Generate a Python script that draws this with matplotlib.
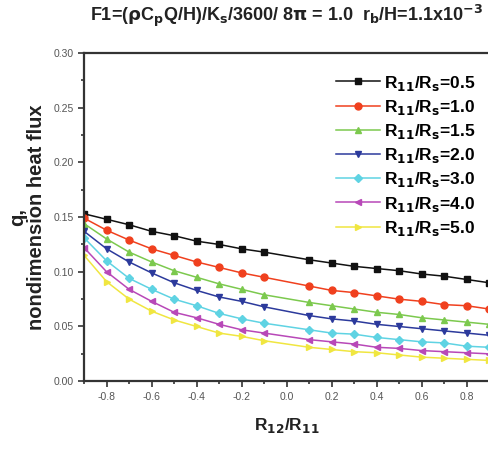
import matplotlib
matplotlib.use("Agg")
import matplotlib.pyplot as plt
from matplotlib.ticker import MultipleLocator, FormatStrFormatter

plt.rcParams['font.family'] = ['Liberation Sans', 'DejaVu Sans']
plt.rcParams['axes.unicode_minus'] = False
plt.rcParams['mathtext.default'] = 'bf'

# Eccentricity ratio R12/R11 (no sample at 0.0)
x = [-0.9, -0.8, -0.7, -0.6, -0.5, -0.4, -0.3, -0.2, -0.1,
     0.1, 0.2, 0.3, 0.4, 0.5, 0.6, 0.7, 0.8, 0.9]

q_05 = [0.153, 0.148, 0.143, 0.137, 0.133, 0.128, 0.125, 0.121, 0.118,
        0.111, 0.108, 0.105, 0.103, 0.101, 0.098, 0.096, 0.093, 0.090]
q_10 = [0.149, 0.138, 0.129, 0.121, 0.115, 0.109, 0.104, 0.099, 0.095,
        0.087, 0.083, 0.081, 0.078, 0.075, 0.073, 0.070, 0.069, 0.066]
q_15 = [0.144, 0.130, 0.118, 0.109, 0.101, 0.095, 0.089, 0.084, 0.079,
        0.072, 0.069, 0.066, 0.063, 0.061, 0.058, 0.056, 0.054, 0.052]
q_20 = [0.137, 0.121, 0.109, 0.099, 0.090, 0.083, 0.077, 0.073, 0.068,
        0.060, 0.057, 0.055, 0.052, 0.050, 0.048, 0.046, 0.044, 0.042]
q_30 = [0.131, 0.110, 0.094, 0.084, 0.075, 0.069, 0.062, 0.057, 0.053,
        0.047, 0.044, 0.043, 0.040, 0.038, 0.036, 0.035, 0.032, 0.031]
q_40 = [0.122, 0.100, 0.084, 0.073, 0.063, 0.058, 0.052, 0.047, 0.044,
        0.038, 0.036, 0.034, 0.031, 0.030, 0.028, 0.027, 0.026, 0.025]
q_50 = [0.115, 0.091, 0.075, 0.064, 0.056, 0.050, 0.044, 0.041, 0.037,
        0.031, 0.029, 0.027, 0.026, 0.024, 0.022, 0.021, 0.020, 0.019]

ratios = ['0.5', '1.0', '1.5', '2.0', '3.0', '4.0', '5.0']
series = [q_05, q_10, q_15, q_20, q_30, q_40, q_50]
colors = ['#111111', '#f0401e', '#7cc94e', '#2c3a9c', '#5fd3e3', '#b848b8', '#f0e640']
markers = ['s', 'o', '^', 'v', 'D', '<', '>']
msizes = [4.2, 5, 5, 5, 4.2, 5, 5]

fig = plt.figure(figsize=(4.89, 4.49), dpi=100)
ax = fig.add_axes([0.172, 0.151, 0.828, 0.731])

for vals, r, c, m, ms in zip(series, ratios, colors, markers, msizes):
    ax.plot(x, vals, color=c, marker=m, markersize=ms, linewidth=1.1,
            label=r'R$_{11}$/R$_{s}$=' + r)

ax.set_xlim(-0.9, 0.9)
ax.set_ylim(0.0, 0.30)
ax.xaxis.set_major_locator(MultipleLocator(0.2))
ax.xaxis.set_minor_locator(MultipleLocator(0.1))
ax.yaxis.set_major_locator(MultipleLocator(0.05))
ax.yaxis.set_minor_locator(MultipleLocator(0.025))
ax.xaxis.set_major_formatter(FormatStrFormatter('%.1f'))
ax.yaxis.set_major_formatter(FormatStrFormatter('%.2f'))

ax.tick_params(which='both', direction='out', width=1.2, colors='#333333',
               labelcolor='#555555', labelsize=7.5)
ax.tick_params(which='major', length=4)
ax.tick_params(which='minor', length=2.5)
for side in ['left', 'bottom', 'top']:
    ax.spines[side].set_linewidth(1.6)
    ax.spines[side].set_color('#333333')
ax.spines['right'].set_visible(False)

ax.set_xlabel(r'R$_{12}$/R$_{11}$', fontsize=12.5, fontweight='bold',
              color='#222222', labelpad=10)
ax.set_ylabel('q,\nnondimension heat flux', fontsize=14.5, fontweight='bold',
              color='#222222', labelpad=5, linespacing=1.0)

fig.text(0.585, 0.965,
         r'F1=($\rho$C$_{p}$Q/H)/K$_{s}$/3600/ 8$\pi$ = 1.0  '
         r'r$_{b}$/H=1.1x10$^{-3}$',
         ha='center', va='center', fontsize=13, fontweight='bold', color='#222222')

ax.legend(loc='upper right', bbox_to_anchor=(1.005, 0.985), frameon=False,
          handlelength=2.5, handletextpad=0.25, labelspacing=0.3,
          prop={'weight': 'bold', 'size': 12.5})

fig.savefig('out.png', dpi=100)
